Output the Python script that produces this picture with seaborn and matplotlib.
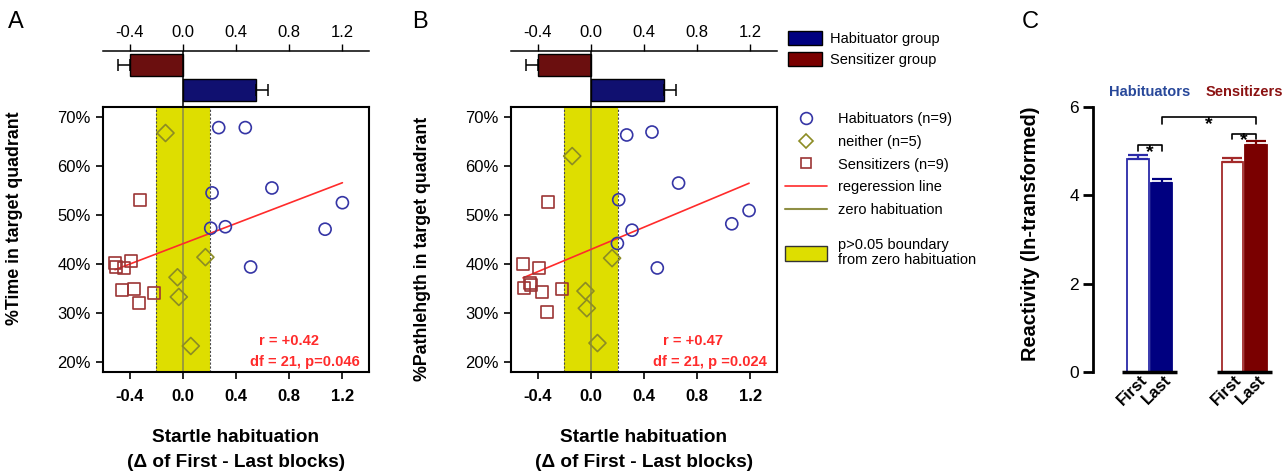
import numpy as np
import pandas as pd
import matplotlib
matplotlib.use('Agg')
import matplotlib.pyplot as plt
import matplotlib.transforms as mtransforms
import seaborn as sns
from matplotlib.lines import Line2D
from matplotlib.patches import Patch

sns.set_theme(style='white')
plt.rcParams['font.family'] = ['Liberation Sans', 'DejaVu Sans']
plt.rcParams['axes.unicode_minus'] = False

# ---------------- data ----------------
bar_groups = ['Sensitizer group', 'Habituator group']
bar_means = [-0.40, 0.55]
bar_sems = [0.085, 0.09]

band_half = 0.205  # p>0.05 boundary around zero habituation

a_hab_x = [0.27, 0.47, 0.22, 0.67, 1.20, 0.21, 0.32, 1.07, 0.51]
a_hab_y = [67.8, 67.8, 54.5, 55.5, 52.5, 47.3, 47.6, 47.1, 39.4]
a_nei_x = [-0.13, 0.17, -0.04, -0.03, 0.06]
a_nei_y = [66.7, 41.4, 37.3, 33.3, 23.3]
a_sen_x = [-0.32, -0.51, -0.50, -0.44, -0.39, -0.46, -0.37, -0.33, -0.22]
a_sen_y = [53.1, 40.2, 39.4, 39.2, 40.6, 34.7, 35.0, 32.0, 34.1]

b_hab_x = [0.27, 0.46, 0.66, 0.21, 1.19, 1.06, 0.31, 0.20, 0.50]
b_hab_y = [66.3, 66.9, 56.5, 53.1, 50.9, 48.2, 46.9, 44.2, 39.2]
b_nei_x = [-0.14, 0.16, -0.04, -0.03, 0.05]
b_nei_y = [62.0, 41.2, 34.5, 31.0, 23.9]
b_sen_x = [-0.32, -0.51, -0.39, -0.50, -0.46, -0.45, -0.37, -0.22, -0.33]
b_sen_y = [52.7, 40.0, 39.2, 35.1, 36.1, 35.7, 34.3, 35.0, 30.2]

scatter_groups = ['Habituators (n=9)', 'neither (n=5)', 'Sensitizers (n=9)']
x_ticks = [-0.4, 0.0, 0.4, 0.8, 1.2]
y_ticks = [20, 30, 40, 50, 60, 70]

c_groups = ['Habituators', 'Habituators', 'Sensitizers', 'Sensitizers']
c_blocks = ['First', 'Last', 'First', 'Last']
c_means = [4.83, 4.28, 4.75, 5.15]
c_sems = [0.09, 0.09, 0.10, 0.08]
c_yticks = [0, 2, 4, 6]

# ---------------- style ----------------
NAVY = '#000080'
MAROON = '#7a0000'
CIRC = '#3535a5'
DIAM = '#8c8c24'
SQ = '#9c3535'
YEL = '#dede00'
OLIVE = '#8f8f45'
RED = '#ff2b2b'
HABTXT = '#28489a'
SENTXT = '#8b1212'

W, H = 1287, 475
fig = plt.figure(figsize=(W / 100, H / 100), dpi=100)


def rect(l, t, r, b):
    return [l / W, 1 - b / H, (r - l) / W, (b - t) / H]


def top_bars(axb):
    sns.barplot(x=bar_means, y=bar_groups, hue=bar_groups, orient='h',
                palette=[MAROON, NAVY], legend=False, width=0.88,
                edgecolor='black', linewidth=1, ax=axb)
    for i, (m, s) in enumerate(zip(bar_means, bar_sems)):
        lo = s if m < 0 else 0
        hi = s if m > 0 else 0
        axb.errorbar(m, i, xerr=[[lo], [hi]], fmt='none', ecolor='black',
                     elinewidth=1.1, capsize=4.5, capthick=1.1)
    axb.axvline(0, color='black', lw=1.1, zorder=5)
    axb.set_xlim(-0.6, 1.4)
    axb.set_ylim(1.68, -0.56)
    for s in ['left', 'right', 'bottom']:
        axb.spines[s].set_visible(False)
    axb.spines['top'].set_color('black')
    axb.spines['top'].set_linewidth(1.1)
    axb.xaxis.tick_top()
    axb.set_xticks(x_ticks, labels=[f'{v:.1f}' for v in x_ticks])
    axb.tick_params(axis='x', top=True, direction='out', length=5, width=1,
                    labelsize=12, colors='black', pad=3)
    axb.set_yticks([])
    axb.set_xlabel('')
    axb.set_ylabel('')
    axb.patch.set_alpha(0)


def scatter_panel(ax, hx, hy, nx, ny, sx, sy, ylabel, ylab_y, r_txt, p_txt, r_pos, p_pos):
    df = pd.DataFrame({
        'x': hx + nx + sx,
        'y': hy + ny + sy,
        'g': [scatter_groups[0]] * len(hx) + [scatter_groups[1]] * len(nx)
             + [scatter_groups[2]] * len(sx),
    })
    ax.axvspan(-band_half, band_half, color=YEL, zorder=0, lw=0)
    for v in (-band_half, band_half):
        ax.axvline(v, color='#4a4a4a', lw=0.8, ls=(0, (2, 1.5)), zorder=1)
    ax.axvline(0, color=OLIVE, lw=1.2, zorder=1)
    sns.regplot(data=df, x='x', y='y', scatter=False, ci=None, truncate=True,
                color=RED, line_kws=dict(lw=1.2, zorder=2), ax=ax)
    sns.scatterplot(data=df, x='x', y='y', hue='g', style='g',
                    palette=dict(zip(scatter_groups, [CIRC, DIAM, SQ])),
                    markers=dict(zip(scatter_groups, ['o', 'D', 's'])),
                    s=75, linewidth=1.2, legend=False, ax=ax, zorder=3)
    coll = ax.collections[-1]
    fc = coll.get_facecolors()
    coll.set_edgecolors(fc)
    coll.set_facecolors('none')
    ax.set_xlim(-0.6, 1.4)
    ax.set_ylim(18, 72)
    ax.set_xticks(x_ticks, labels=[f'{v:.1f}' for v in x_ticks], fontweight='bold')
    ax.set_yticks(y_ticks, labels=[f'{v}%' for v in y_ticks])
    ax.tick_params(axis='both', direction='out', length=5, width=1.2,
                   labelsize=12, colors='black', left=True, bottom=True, pad=4)
    ax.tick_params(axis='x', pad=7)
    for s in ax.spines.values():
        s.set_visible(True)
        s.set_color('black')
        s.set_linewidth(1.5)
    ax.set_xlabel('Startle habituation\n(\u0394 of First - Last blocks)',
                  fontsize=13.7, fontweight='bold', linespacing=1.6, color='black')
    ax.xaxis.set_label_coords(0.5, -0.215)
    ax.set_ylabel(ylabel, fontsize=12.8, fontweight='bold', color='black')
    ax.yaxis.set_label_coords(-0.30, ylab_y)
    ax.text(r_pos[0], r_pos[1], r_txt, transform=ax.transAxes, color=RED,
            fontsize=10.5, fontweight='bold', ha='center', va='center')
    ax.text(p_pos[0], p_pos[1], p_txt, transform=ax.transAxes, color=RED,
            fontsize=10.5, fontweight='bold', ha='right', va='center')


# Panel A
axbA = fig.add_axes(rect(103, 51, 369, 107))
top_bars(axbA)
axA = fig.add_axes(rect(103, 107, 369, 372))
scatter_panel(axA, a_hab_x, a_hab_y, a_nei_x, a_nei_y, a_sen_x, a_sen_y,
              '%Time in target quadrant', 0.579, 'r = +0.42', 'df = 21, p=0.046',
              (0.70, 0.117), (0.966, 0.038))

# Panel B
axbB = fig.add_axes(rect(511, 51, 777, 107))
top_bars(axbB)
axB = fig.add_axes(rect(511, 107, 777, 372))
scatter_panel(axB, b_hab_x, b_hab_y, b_nei_x, b_nei_y, b_sen_x, b_sen_y,
              '%Pathlehgth in target quadrant', 0.466, 'r = +0.47', 'df = 21, p =0.024',
              (0.684, 0.117), (0.962, 0.038))

# Legends
leg_bar = fig.legend(
    handles=[Patch(fc=NAVY, ec='black', lw=1), Patch(fc=MAROON, ec='black', lw=1)],
    labels=[bar_groups[1], bar_groups[0]], loc='upper left',
    bbox_to_anchor=(788 / W, 1 - 31 / H), frameon=False, fontsize=10.5,
    borderpad=0, borderaxespad=0, handlelength=2.35, handleheight=1.05,
    handletextpad=0.55, labelspacing=0.45)
for t in leg_bar.get_texts():
    t.set_color('black')

sc_handles = [
    Line2D([], [], marker='o', ls='none', mfc='none', mec=CIRC, ms=8.5, mew=1.2),
    Line2D([], [], marker='D', ls='none', mfc='none', mec=DIAM, ms=7, mew=1.2),
    Line2D([], [], marker='s', ls='none', mfc='none', mec=SQ, ms=7.5, mew=1.2),
    Line2D([], [], color=RED, lw=1.2),
    Line2D([], [], color=OLIVE, lw=1.5),
]
leg_sc = fig.legend(handles=sc_handles,
                    labels=scatter_groups + ['regeression line', 'zero habituation'],
                    loc='upper left', bbox_to_anchor=(785 / W, 1 - 112 / H),
                    frameon=False, fontsize=10.5, borderpad=0, borderaxespad=0,
                    handlelength=2.9, handletextpad=0.75, labelspacing=0.6)
for t in leg_sc.get_texts():
    t.set_color('black')
leg_y = fig.legend(handles=[Patch(fc=YEL, ec='#333333', lw=1)],
                   labels=['p>0.05 boundary\nfrom zero habituation'],
                   loc='upper left', bbox_to_anchor=(785 / W, 1 - 238 / H),
                   frameon=False, fontsize=10.5, borderpad=0, borderaxespad=0,
                   handlelength=2.9, handleheight=1.2, handletextpad=0.7)
for t in leg_y.get_texts():
    t.set_color('black')
    t.set_linespacing(1.1)

# Panel C
axC = fig.add_axes(rect(1093, 107, 1283, 372))
dfc = pd.DataFrame({'group': c_groups, 'block': c_blocks, 'mean': c_means})
sns.barplot(data=dfc, x='group', y='mean', hue='block', dodge=True, width=0.5,
            gap=0.08, errorbar=None, legend=False, ax=axC)
patches = sorted(axC.patches, key=lambda p: p.get_x())
faces = ['white', NAVY, 'white', MAROON]
edges = ['#2a2aa8', NAVY, '#a32a2a', MAROON]
centers = []
tops = []
for p, f, e, m, s in zip(patches, faces, edges, c_means, c_sems):
    p.set_facecolor(f)
    p.set_edgecolor(e)
    p.set_linewidth(1.3)
    cx = p.get_x() + p.get_width() / 2
    centers.append(cx)
    tops.append(m + s)
    axC.errorbar(cx, m, yerr=[[0], [s]], fmt='none', ecolor=e, elinewidth=1.6,
                 capsize=7.5, capthick=1.6)
axC.set_xlim(-0.6, 1.41)
axC.set_ylim(0, 6)
for s in ['top', 'right', 'bottom']:
    axC.spines[s].set_visible(False)
axC.spines['left'].set_color('black')
axC.spines['left'].set_linewidth(2)
axC.set_yticks(c_yticks, labels=[str(v) for v in c_yticks])
axC.tick_params(axis='y', direction='out', length=7, width=2, labelsize=12.5,
                colors='black', left=True, pad=3)
axC.set_xticks(centers, labels=c_blocks, rotation=45, fontweight='bold',
               fontsize=12, ha='right', rotation_mode='anchor', va='center')
axC.tick_params(axis='x', length=0, pad=4, colors='black')
shift = mtransforms.ScaledTranslation(7 / 100, 0, fig.dpi_scale_trans)
for lbl in axC.get_xticklabels():
    lbl.set_transform(lbl.get_transform() + shift)
axC.set_xlabel('')
axC.set_ylabel('Reactivity (ln-transformed)', fontsize=14.4, fontweight='bold',
               color='black')
axC.yaxis.set_label_coords(-0.28, 0.523)

group_centers = [(centers[0] + centers[1]) / 2, (centers[2] + centers[3]) / 2]
for gc in group_centers:
    axC.plot([gc - 0.29, gc + 0.29], [0, 0], color='black', lw=2.5,
             clip_on=False, solid_capstyle='butt')
axC.text(group_centers[0], 6.33, 'Habituators', color=HABTXT, fontsize=10.5,
         fontweight='bold', ha='center', va='center')
axC.text(group_centers[1], 6.33, 'Sensitizers', color=SENTXT, fontsize=10.5,
         fontweight='bold', ha='center', va='center')


def bracket(ax, x1, x2, y, h):
    ax.plot([x1, x1, x2, x2], [y - h, y, y, y - h], color='black', lw=1.2,
            clip_on=False)
    ax.annotate('*', xy=((x1 + x2) / 2, y), xytext=(0, -8.5),
                textcoords='offset points', ha='center', va='baseline',
                fontsize=14, fontweight='bold', color='black')


y_h = max(tops[0], tops[1]) + 0.22
y_s = max(tops[2], tops[3]) + 0.17
bracket(axC, centers[0], centers[1], y_h, 0.13)
bracket(axC, centers[2], centers[3], y_s, 0.12)
bracket(axC, centers[1], centers[3], y_s + 0.37, 0.15)

# Panel letters
fig.text(8 / W, 1 - 28 / H, 'A', fontsize=17, va='baseline', color='black')
fig.text(412 / W, 1 - 28 / H, 'B', fontsize=17, va='baseline', color='black')
fig.text(1022 / W, 1 - 28 / H, 'C', fontsize=17, va='baseline', color='black')

fig.savefig('out.png', dpi=100, facecolor='white')
